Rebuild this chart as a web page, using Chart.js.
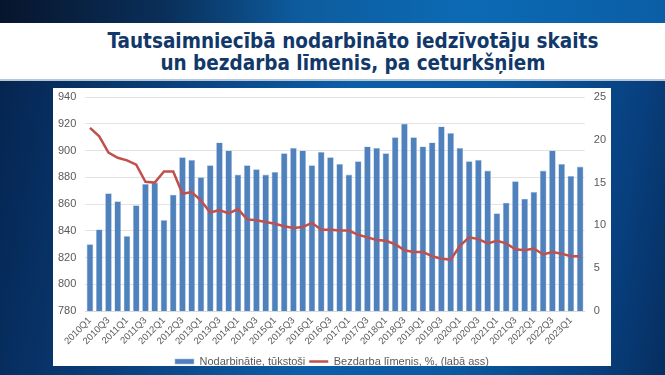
<!DOCTYPE html>
<html>
<head>
<meta charset="utf-8">
<script src="https://cdn.jsdelivr.net/npm/chart.js@4.4.0/dist/chart.umd.min.js"></script>
<style>
  html, body { margin: 0; padding: 0; }
  body {
    width: 665px; height: 375px; overflow: hidden; position: relative;
    background: linear-gradient(100deg, #05234d 0%, #0a3f7c 25%, #0b5ea9 50%, #0a5aa2 70%, #08407f 90%, #062e60 100%);
  }
  #topstrip {
    position: absolute; left: 0; top: 0; width: 665px; height: 23px;
    background: linear-gradient(90deg, #07152c 0%, #0a2f5a 25%, #0d5c9e 45%, #0c6ab4 70%, #0b5ea6 100%);
  }
  #band {
    position: absolute; left: 0; top: 23px; width: 665px; height: 56px;
    background: #fff; border-bottom: 2px solid #b9c6d4;
  }
  #title {
    position: absolute; left: 0; top: 7px; width: 706px; text-align: center;
    font-family: "DejaVu Sans Condensed", "DejaVu Sans", sans-serif; font-stretch: condensed;
    font-weight: bold; font-size: 20.5px; line-height: 22px; color: #12386a;
  }
  #panel {
    position: absolute; left: 53px; top: 88px; width: 558px; height: 278px; background: #fff;
  }
</style>
</head>
<body>
<div id="topstrip"></div>
<div id="band"><div id="title">Tautsaimniecībā nodarbināto iedzīvotāju skaits<br>un bezdarba līmenis, pa ceturkšņiem</div></div>
<div id="panel"><canvas id="chart" width="558" height="278"></canvas></div>
<script>
// ceturkšņi 2010Q1 - 2023Q2
var quarters = ['2010Q1','2010Q2','2010Q3','2010Q4','2011Q1','2011Q2','2011Q3','2011Q4',
  '2012Q1','2012Q2','2012Q3','2012Q4','2013Q1','2013Q2','2013Q3','2013Q4',
  '2014Q1','2014Q2','2014Q3','2014Q4','2015Q1','2015Q2','2015Q3','2015Q4',
  '2016Q1','2016Q2','2016Q3','2016Q4','2017Q1','2017Q2','2017Q3','2017Q4',
  '2018Q1','2018Q2','2018Q3','2018Q4','2019Q1','2019Q2','2019Q3','2019Q4',
  '2020Q1','2020Q2','2020Q3','2020Q4','2021Q1','2021Q2','2021Q3','2021Q4',
  '2022Q1','2022Q2','2022Q3','2022Q4','2023Q1','2023Q2'];

// nodarbinātie, tūkstoši
var employed = [830,841,868,862,836,859,875,876,848,867,
  895,893,880,889,906,900,882,889,886,882,
  884,898,902,900,889,899,895,890,882,892,
  903,902,898,910,920,910,903,906,918,913,
  902,892,893,885,853,861,877,864,869,885,
  900,890,881,888];

// bezdarba līmenis, %
var unemployment = [21.4,20.4,18.5,17.9,17.6,17.1,15.1,15.0,16.3,16.3,
  13.7,13.9,12.9,11.5,11.8,11.4,11.9,10.7,10.6,10.4,
  10.2,9.9,9.7,9.8,10.3,9.5,9.5,9.4,9.4,8.9,
  8.6,8.3,8.2,7.8,7.1,6.9,6.9,6.4,6.1,6.0,
  7.6,8.6,8.4,7.9,8.2,7.9,7.2,7.1,7.3,6.6,
  6.9,6.7,6.4,6.4];

var leftMin = 780, leftMax = 940, leftStep = 20;
var rightMin = 0, rightMax = 25, rightStep = 5;

var font = "'Liberation Sans', Arial, sans-serif";
var grey = '#595959';

// y asīm nevajag papildu atkāpi virs/zem
function noVertPad(scale) {
  scale.paddingTop = 0;
  scale.paddingBottom = 0;
}

var ctx = document.getElementById('chart').getContext('2d');
var chart = new Chart(ctx, {
  type: 'bar',
  data: {
    labels: quarters,
    datasets: [
      {
        label: 'Nodarbinātie, tūkstoši',
        data: employed,
        yAxisID: 'y',
        backgroundColor: '#4f81bd',
        borderColor: '#a9c0e0',
        borderWidth: 0.6,
        categoryPercentage: 1,
        barPercentage: 0.72,
        pointStyle: 'rect',
        order: 2
      },
      {
        label: 'Bezdarba līmenis, %, (labā ass)',
        data: unemployment,
        type: 'line',
        yAxisID: 'y1',
        borderColor: '#c0504d',
        backgroundColor: '#c0504d',
        borderWidth: 2.5,
        pointRadius: 0,
        tension: 0,
        pointStyle: 'line',
        order: 1
      }
    ]
  },
  options: {
    responsive: false,
    animation: false,
    layout: { padding: { left: -4, right: -4, top: 9, bottom: -11 } },
    plugins: {
      tooltip: { enabled: false },
      legend: {
        position: 'bottom',
        labels: {
          usePointStyle: true,
          pointStyleWidth: 19,
          boxHeight: 5,
          padding: 4,
          color: grey,
          font: { family: font, size: 11 },
          sort: function(a, b) { return a.datasetIndex - b.datasetIndex; }
        }
      }
    },
    scales: {
      x: {
        grid: { display: false, drawTicks: false },
        border: { color: '#d9d9d9' },
        ticks: {
          autoSkip: false,
          maxRotation: 45,
          minRotation: 45,
          padding: 4,
          color: grey,
          font: { family: font, size: 9.5 },
          callback: function(value, index) {
            return index % 2 === 0 ? quarters[index] : '';
          }
        },
        afterFit: function(scale) {
          scale.height = 41;
          scale.paddingLeft = 0;
          scale.paddingRight = 0;
        }
      },
      y: {
        position: 'left',
        min: leftMin, max: leftMax,
        grid: { color: '#e3e3e3', drawTicks: false },
        border: { display: false },
        ticks: {
          stepSize: leftStep, padding: 9, color: grey,
          font: { family: font, size: 11 }
        },
        afterFit: noVertPad
      },
      y1: {
        position: 'right',
        min: rightMin, max: rightMax,
        grid: { display: false, drawTicks: false },
        border: { display: false },
        ticks: {
          stepSize: rightStep, padding: 9, color: grey,
          font: { family: font, size: 11 }
        },
        afterFit: noVertPad
      }
    }
  }
});
</script>
</body>
</html>
